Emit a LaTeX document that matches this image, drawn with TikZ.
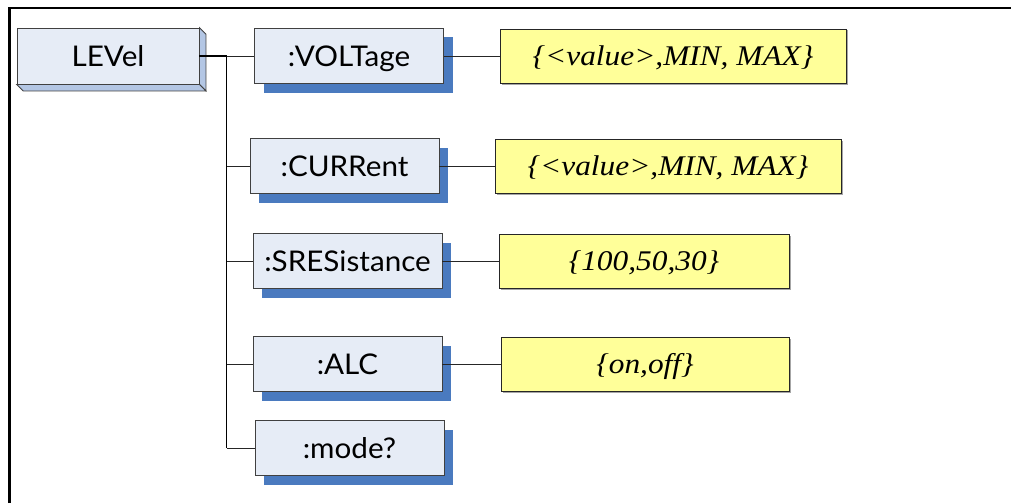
\documentclass[tikz,border=0pt]{standalone}
\usepackage{fontspec}
\setmainfont{Liberation Serif}
\newfontfamily\cmdfont{Lato}[FakeStretch=1.04]
\newfontfamily\valfont{Liberation Serif}[ItalicFont={Liberation Serif Italic}, FakeStretch=1.1]
\usetikzlibrary{shadows,calc}
\definecolor{boxfill}{HTML}{E6ECF6}
\definecolor{sidefill}{HTML}{B3C6E4}
\definecolor{shadowblue}{HTML}{4A7ABF}
\definecolor{valfill}{HTML}{FFFF99}
\tikzset{
  cmdbox/.style={draw=black!75, line width=0.8pt, fill=boxfill, minimum width=189pt, minimum height=55pt,
    inner sep=0pt, text height=20.5pt, text depth=0pt, font=\cmdfont\fontsize{28.5}{32}\selectfont,
    general shadow={fill=shadowblue, shadow xshift=9pt, shadow yshift=-9pt}},
  levbox/.style={draw=black!75, line width=0.8pt, fill=boxfill, minimum width=182pt, minimum height=56pt,
    inner sep=0pt, text height=20.5pt, text depth=0pt, font=\cmdfont\fontsize{28.5}{32}\selectfont},
  valbox/.style={draw=black!85, line width=0.8pt, fill=valfill, minimum height=54pt,
    inner sep=0pt, text height=18.5pt, text depth=0pt, font=\valfont\itshape\fontsize{28.5}{32}\selectfont,
    general shadow={fill=black!35, shadow xshift=1.5pt, shadow yshift=-1.5pt}},
  conn/.style={draw=black!85, line width=0.8pt},
  trunkline/.style={draw=black, line width=1.1pt},
  frameline/.style={draw=black, line width=2.6pt}
}
\begin{document}
\begin{tikzpicture}[x=1pt,y=-1pt]
\useasboundingbox (0,0) rectangle (1011,503);
\draw[frameline] (9.5,503) -- (9.5,8) -- (1011,8);
% LEVel 3D box
\node[levbox] (L) at (108,56) {LEVel};
\fill[sidefill, draw=black!75, line width=0.8pt] (L.north east) -- ([shift={(6.5pt,-6.5pt)}]L.north east) -- ([shift={(6.5pt,-6.5pt)}]L.south east) -- (L.south east) -- cycle;
\fill[sidefill, draw=black!75, line width=0.8pt] (L.south west) -- ([shift={(6.5pt,-6.5pt)}]L.south west) -- ([shift={(6.5pt,-6.5pt)}]L.south east) -- (L.south east) -- cycle;
% command boxes
\node[cmdbox] (volt) at (349,56) {:VOLTage};
\node[cmdbox] (curr) at (344.5,166) {:CURRent};
\node[cmdbox] (sres) at (347.5,261) {:SRESistance};
\node[cmdbox] (alc) at (347.5,364) {:ALC};
\node[cmdbox] (mode) at (349.5,448) {:mode?};
% value boxes
\node[valbox, minimum width=346pt] (v1) at (673,56) {\{<value>,MIN, MAX\}};
\node[valbox, minimum width=346pt] (v2) at (668,166) {\{<value>,MIN, MAX\}};
\node[valbox, minimum width=290pt] (v3) at (644,261) {\{100,50,30\}};
\node[valbox, minimum width=288pt] (v4) at (645,364) {\{on,off\}};
% connectors
\coordinate (jt) at (226.5,56);
\coordinate (jb) at (226.5,448);
\draw[trunkline] (L.east) -- (jt);
\draw[conn] (jt) -- (volt.west);
\draw[trunkline] (jt) -- (jb);
\draw[conn] (jb) -- (mode.west);
\draw[conn] (curr.west) -- (curr.west -| jt);
\draw[conn] (sres.west) -- (sres.west -| jt);
\draw[conn] (alc.west) -- (alc.west -| jt);
\draw[conn] (volt.east) -- (v1.west);
\draw[conn] (curr.east) -- (v2.west);
\draw[conn] (sres.east) -- (v3.west);
\draw[conn] (alc.east) -- (v4.west);
\end{tikzpicture}
\end{document}
